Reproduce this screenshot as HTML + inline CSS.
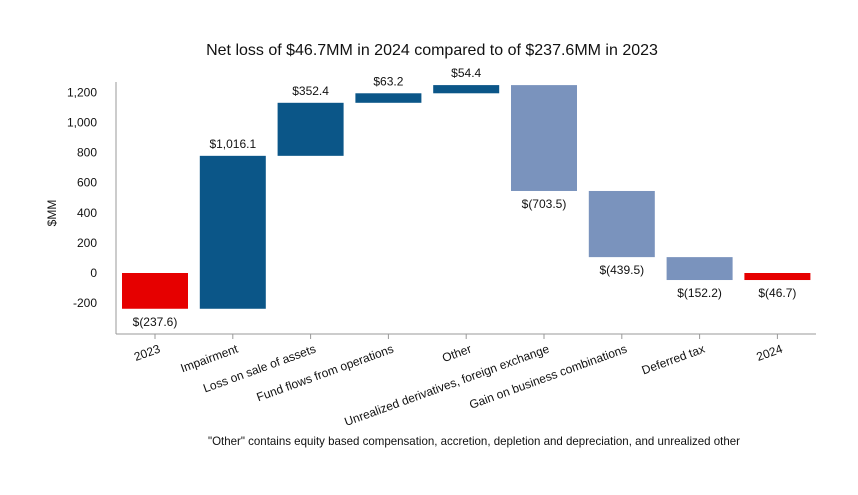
<!DOCTYPE html>
<html><head><meta charset="utf-8"><style>
body{margin:0;background:#fff;font-family:"Liberation Sans",Arial,sans-serif}
svg text{font-family:"Liberation Sans",Arial,sans-serif;fill:#111}
</style></head><body>
<svg id="chart" width="858" height="490" viewBox="0 0 858 490" xmlns="http://www.w3.org/2000/svg">
<text x="432" y="55" font-size="16" text-anchor="middle">Net loss of $46.7MM in 2024 compared to of $237.6MM in 2023</text>
<text transform="translate(56,213) rotate(-90)" font-size="12" text-anchor="middle">$MM</text>
<line x1="116" y1="82" x2="116" y2="334" stroke="#999" stroke-width="1"/>
<line x1="116" y1="334" x2="816" y2="334" stroke="#999" stroke-width="1"/>
<g id="g"></g>
<text x="208" y="445" font-size="12" textLength="532" lengthAdjust="spacingAndGlyphs">"Other" contains equity based compensation, accretion, depletion and depreciation, and unrealized other</text>
</svg>
<script>
const categories=["2023","Impairment","Loss on sale of assets","Fund flows from operations","Other","Unrealized derivatives, foreign exchange","Gain on business combinations","Deferred tax","2024"];
const deltas=[-237.6,1016.1,352.4,63.2,54.4,-703.5,-439.5,-152.2,-46.7];
const kinds=["total","up","up","up","up","down","down","down","total"];
const valueLabels=["$(237.6)","$1,016.1","$352.4","$63.2","$54.4","$(703.5)","$(439.5)","$(152.2)","$(46.7)"];
const yTicks=[-200,0,200,400,600,800,1000,1200];
const yTickLabels=["-200","0","200","400","600","800","1,000","1,200"];
const NS="http://www.w3.org/2000/svg";
const g=document.getElementById('g');
function y(v){return 273-v*0.1505;}
function xc(i){return 155+i*77.8;}
const colors={total:"#e60000",up:"#0b5688",down:"#7a93bd"};
function mk(t,a){const e=document.createElementNS(NS,t);for(const k in a)e.setAttribute(k,a[k]);g.appendChild(e);return e;}
yTicks.forEach((v,i)=>{
  const t=mk('text',{x:97,y:y(v)+4,'font-size':12,'text-anchor':'end'});
  
  
  t.textContent=yTickLabels[i];
});
let run=0;
categories.forEach((c,i)=>{
  let a,b;
  if(kinds[i]==="total"){a=0;b=deltas[i];run=deltas[i];}
  else{a=run;b=run+deltas[i];run=b;}
  const top=y(Math.max(a,b)),bot=y(Math.min(a,b));
  const r=mk('rect',{x:xc(i)-33,y:top,width:66,height:Math.max(bot-top,1),fill:colors[kinds[i]]});
  
  
  const pos=kinds[i]==="up";
  const lbl=mk('text',{x:xc(i),y:pos?top-8:bot+17,'font-size':12,'text-anchor':'middle'});
  
  
  lbl.textContent=valueLabels[i];
  const tk=mk('line',{x1:xc(i),y1:334,x2:xc(i),y2:339,stroke:'#999'});
  
  
  const xl=mk('text',{transform:`translate(${xc(i)+6},${352}) rotate(-20)`,'font-size':12,'text-anchor':'end'});
  
  
  xl.textContent=c;
});
</script>
</body></html>
